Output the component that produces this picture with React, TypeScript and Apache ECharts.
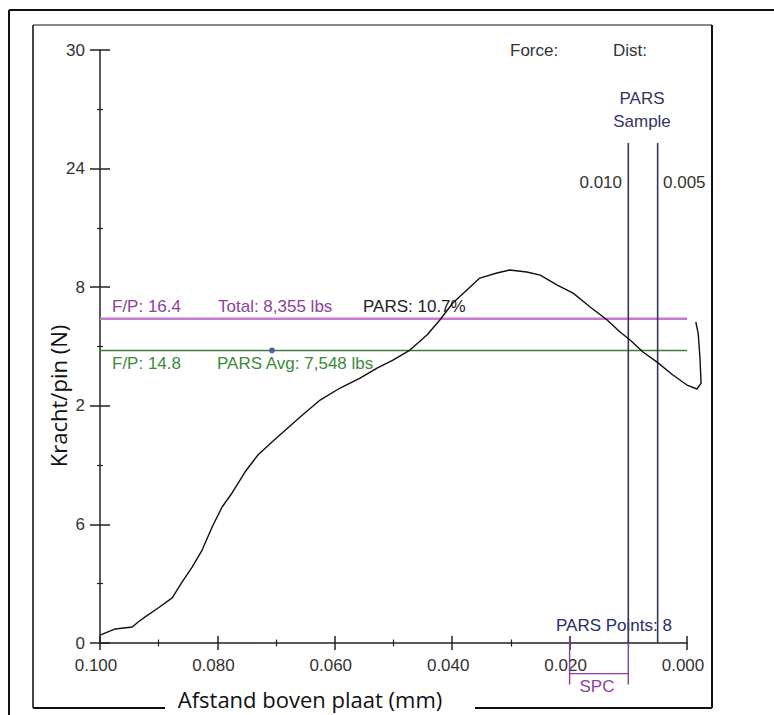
import React, { useEffect, useRef } from "react";
import * as echarts from "echarts";

// Force-distance curve (distance in mm above plate, force per pin)
const distances = [
  0.1, 0.0974, 0.0945, 0.0935, 0.0923, 0.0901, 0.0877, 0.086, 0.0843, 0.0826,
  0.0809, 0.0792, 0.0775, 0.0753, 0.0731, 0.0707, 0.0659, 0.0625, 0.0591, 0.0557,
  0.0528, 0.0501, 0.0472, 0.0443, 0.0421, 0.0399, 0.0375, 0.0353, 0.0324, 0.0302,
  0.0273, 0.025, 0.0221, 0.0194, 0.0165, 0.0136, 0.0114, 0.0097, 0.0075, 0.0051,
  0.0024, 0.0, -0.0017, -0.0024, -0.0022, -0.0019, -0.0015,
];
const forces = [
  0.4, 0.71, 0.81, 1.06, 1.32, 1.77, 2.28, 3.09, 3.84, 4.7,
  5.87, 6.88, 7.59, 8.65, 9.51, 10.17, 11.43, 12.29, 12.9, 13.4,
  13.91, 14.31, 14.82, 15.58, 16.34, 17.2, 17.86, 18.46, 18.72, 18.87,
  18.77, 18.61, 18.11, 17.7, 17.0, 16.34, 15.73, 15.33, 14.72, 14.21,
  13.56, 13.05, 12.85, 13.15, 14.47, 15.68, 16.24,
];

const yTickLabels = ["0", "6", "2", "8", "24", "30"];
const totalFP = 16.4;
const parsAvgFP = 14.8;
const avgMarker = [0.0707, 14.8];
const parsSample = [0.01, 0.005];
const parsSampleTop = 25.3;
const spcRange = [0.02, 0.01];
const xRange = [0.1, 0.0];
const curveXMin = -0.003;

const MAGENTA_TXT = "#8e3f9c";
const MAGENTA_LINE = "#c47ccb";
const GREEN_TXT = "#3b8a3b";
const GREEN_LINE = "#3c7d3c";
const NAVY = "#35355f";
const FONT = "'Liberation Sans', Arial, sans-serif";

// grid geometry
const G_LEFT = 100;
const G_RIGHT = 87;
const G_TOP = 50;
const G_BOTTOM = 72;
const W = 774;
const PX_PER_UNIT = (W - G_LEFT - G_RIGHT) / 0.1;

export default function App() {
  const ref = useRef<HTMLDivElement>(null);
  useEffect(() => {
    if (!ref.current) return;
    const chart = echarts.init(ref.current, undefined, { renderer: "svg" });
    const curve = distances.map((d, i) => [d, forces[i]]);

    const baseX = {
      type: "value",
      min: 0,
      max: 0.1,
      interval: 0.02,
      inverse: true,
      gridIndex: 0,
      splitLine: { show: false },
    };
    const baseY = {
      type: "value",
      min: 0,
      max: 30,
      interval: 6,
      gridIndex: 0,
      splitLine: { show: false },
    };

    const txt = (text: string, x: number, y: number, fill: string, align = "left", size = 17, family = FONT, rotation = 0) => ({
      type: "text",
      x,
      y,
      rotation,
      style: { text, fill, font: `${size}px ${family}`, textAlign: align, textVerticalAlign: "middle" },
      silent: true,
    });
    const ln = (x1: number, y1: number, x2: number, y2: number, stroke: string, w = 2) => ({
      type: "line",
      shape: { x1, y1, x2, y2 },
      style: { stroke, lineWidth: w },
      silent: true,
    });

    const curveGridRight = W - G_LEFT - (0.1 - curveXMin) * PX_PER_UNIT;

    chart.setOption({
      animation: false,
      backgroundColor: "#ffffff",
      grid: [
        { left: G_LEFT, right: G_RIGHT, top: G_TOP, bottom: G_BOTTOM, containLabel: false },
        { left: G_LEFT, right: curveGridRight, top: G_TOP, bottom: G_BOTTOM, containLabel: false },
      ],
      xAxis: [
        {
          ...baseX,
          position: "bottom",
          axisLine: { show: true, onZero: false, lineStyle: { color: "#222", width: 1.5 } },
          axisTick: { show: true, inside: false, length: 7, lineStyle: { color: "#222", width: 1.5 } },
          minorTick: { show: true, splitNumber: 2, length: 3.5, lineStyle: { color: "#222", width: 1.2 } },
          axisLabel: {
            show: true,
            margin: 14,
            color: "#333",
            fontSize: 17,
            fontFamily: FONT,
            padding: [0, 8, 0, 0],
            formatter: (v: number) => v.toFixed(3),
          },
        },
        {
          ...baseX,
          position: "bottom",
          axisLine: { show: false, onZero: false },
          axisTick: { show: true, inside: true, length: 7, lineStyle: { color: "#222", width: 1.5 } },
          minorTick: { show: true, splitNumber: 2, length: 3.5, lineStyle: { color: "#222", width: 1.2 } },
          axisLabel: { show: false },
        },
        {
          type: "value",
          gridIndex: 1,
          min: curveXMin,
          max: 0.1,
          inverse: true,
          show: false,
        },
      ],
      yAxis: [
        {
          ...baseY,
          position: "left",
          axisLine: { show: true, onZero: false, lineStyle: { color: "#222", width: 1.5 } },
          axisTick: { show: true, inside: false, length: 10, lineStyle: { color: "#222", width: 1.5 } },
          minorTick: { show: true, splitNumber: 2, length: 3, lineStyle: { color: "#222", width: 1.2 } },
          axisLabel: {
            show: true,
            margin: 15,
            color: "#333",
            fontSize: 17,
            fontFamily: FONT,
            formatter: (v: number) => yTickLabels[Math.round(v / 6)],
          },
        },
        {
          ...baseY,
          position: "left",
          axisLine: { show: false, onZero: false },
          axisTick: { show: true, inside: true, length: 10, lineStyle: { color: "#222", width: 1.5 } },
          minorTick: { show: true, splitNumber: 2, length: 3, lineStyle: { color: "#222", width: 1.2 } },
          axisLabel: { show: false },
        },
        {
          type: "value",
          gridIndex: 1,
          min: 0,
          max: 30,
          show: false,
        },
      ],
      series: [
        {
          type: "line",
          data: xRange.map((x) => [x, totalFP]),
          symbol: "none",
          lineStyle: { color: MAGENTA_LINE, width: 2.5 },
          silent: true,
        },
        {
          type: "line",
          data: xRange.map((x) => [x, parsAvgFP]),
          symbol: "none",
          lineStyle: { color: GREEN_LINE, width: 1.6 },
          silent: true,
        },
        ...parsSample.map((x) => ({
          type: "line",
          data: [[x, 0], [x, parsSampleTop]],
          symbol: "none",
          lineStyle: { color: NAVY, width: 1.6 },
          silent: true,
        })),
        {
          type: "line",
          data: [[spcRange[0], 0.3], [spcRange[0], -2.1]],
          symbol: "none",
          clip: false,
          lineStyle: { color: MAGENTA_TXT, width: 1.4 },
          silent: true,
        },
        {
          type: "line",
          data: [[spcRange[1], 0], [spcRange[1], -2.1]],
          symbol: "none",
          clip: false,
          lineStyle: { color: MAGENTA_TXT, width: 1.4 },
          silent: true,
        },
        {
          type: "line",
          data: spcRange.map((x) => [x, -1.55]),
          symbol: "none",
          clip: false,
          lineStyle: { color: MAGENTA_TXT, width: 1.4 },
          silent: true,
        },
        {
          type: "line",
          xAxisIndex: 2,
          yAxisIndex: 2,
          data: curve,
          symbol: "none",
          clip: false,
          lineStyle: { color: "#111", width: 1.4 },
          silent: true,
        },
        {
          type: "scatter",
          data: [avgMarker],
          symbolSize: 6,
          itemStyle: { color: "#2b2bd8" },
          silent: true,
        },
      ],
      graphic: [
        // outer frame
        ln(9, 10, 774, 10, "#111", 2),
        ln(9, 10, 9, 715, "#111", 2),
        // inner frame
        ln(33, 25, 712, 25, "#888", 2),
        ln(33, 25, 33, 708, "#444", 2),
        ln(712, 25, 712, 708, "#111", 2),
        ln(33, 708, 165, 708, "#111", 2),
        ln(475, 708, 712, 708, "#111", 2),
        // axis titles
        txt("Afstand boven plaat (mm)", 310, 699, "#111", "center", 22, "'Open Sans', sans-serif"),
        txt("Kracht/pin (N)", 58, 396, "#111", "center", 22, "'Open Sans', sans-serif", Math.PI / 2),
        // annotations
        txt("Force:", 510, 50, "#333"),
        txt("Dist:", 613, 50, "#333"),
        txt("PARS", 642, 98, NAVY, "center"),
        txt("Sample", 642, 121, NAVY, "center"),
        txt("0.010", 622, 182, "#333", "right"),
        txt("0.005", 663, 182, "#333"),
        txt("F/P: 16.4", 112, 306, MAGENTA_TXT),
        txt("Total: 8,355 lbs", 218, 306, MAGENTA_TXT),
        txt("PARS: 10.7%", 363, 306, "#222"),
        txt("F/P: 14.8", 112, 363, GREEN_TXT),
        txt("PARS Avg: 7,548 lbs", 217, 363, GREEN_TXT),
        txt("PARS Points: 8", 556, 625, "#2a2a6e"),
        txt("SPC", 597, 686, MAGENTA_TXT, "center"),
      ],
    });
    return () => chart.dispose();
  }, []);
  return (
    <div
      ref={ref}
      style={{ position: "fixed", left: 0, top: 0, width: 774, height: 715, background: "#fff" }}
    />
  );
}
